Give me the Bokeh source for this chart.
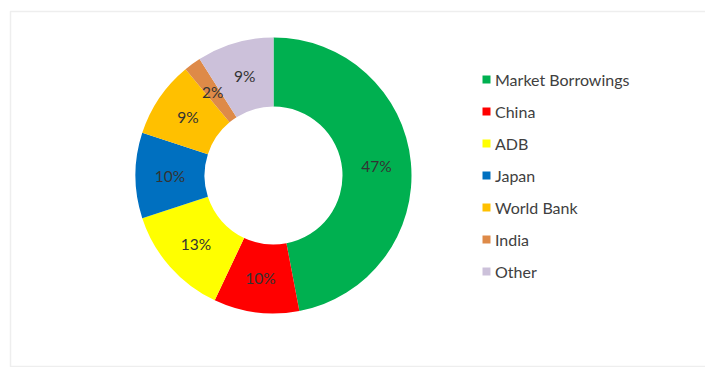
import numpy as np
from bokeh.plotting import figure
from bokeh.models import ColumnDataSource, Range1d, Legend, LegendItem, BoxAnnotation
from bokeh.core.properties import value
from bokeh.embed import file_html
from bokeh.resources import INLINE

categories = ["Market Borrowings", "China", "ADB", "Japan", "World Bank", "India", "Other"]
shares = [47, 10, 13, 10, 9, 2, 9]
colors = ["#00B050", "#FF0000", "#FFFF00", "#0070C0", "#FFC000", "#DE8A48", "#CCC1DA"]
labels = [f"{s}%" for s in shares]

W, H = 705, 367
cx, cy = 273, H - 175
r_out, r_in = 138, 69

frac = np.array(shares, dtype=float) / sum(shares)
cum = np.concatenate([[0], np.cumsum(frac)]) * 2 * np.pi  # clockwise from top
start_cw = cum[:-1]
end_cw = cum[1:]
mid_cw = (start_cw + end_cw) / 2
r_mid = (r_out + r_in) / 2

src = ColumnDataSource(dict(
    cat=categories, share=shares, color=colors, label=labels,
    start=np.pi / 2 - end_cw, end=np.pi / 2 - start_cw,
    lx=cx + r_mid * np.sin(mid_cw), ly=cy + r_mid * np.cos(mid_cw),
))

p = figure(width=W, height=H, x_range=Range1d(0, W), y_range=Range1d(0, H),
           output_backend="svg", toolbar_location=None, min_border=0,
           x_axis_location=None, y_axis_location=None)
p.grid.visible = False
p.outline_line_color = None
p.background_fill_color = "white"
p.border_fill_color = "white"

# panel frame
p.add_layout(BoxAnnotation(left=10, right=W + 20, bottom=1, top=H - 11,
                           fill_color=None, line_color="#c8c8c8", line_width=1.5))

r = p.annular_wedge(x=cx, y=cy, inner_radius=r_in, outer_radius=r_out,
                    start_angle="start", end_angle="end", direction="anticlock",
                    fill_color="color", line_color=None, source=src)

p.text(x="lx", y="ly", text="label", source=src, text_align="center",
       text_baseline="middle", text_font=value("Lato"), text_font_size="15.5px",
       text_color="#333333")

legend = Legend(items=[LegendItem(label=c, renderers=[r], index=i) for i, c in enumerate(categories)],
                location=(481, 86), orientation="vertical",
                glyph_width=10, glyph_height=10, label_standoff=4, label_height=20,
                spacing=12, padding=0, margin=0, border_line_color=None,
                background_fill_alpha=0, label_text_font="Lato",
                label_text_font_size="16px", label_text_color="#404040")
p.add_layout(legend)

open("out.html", "w").write(file_html(p, INLINE))
